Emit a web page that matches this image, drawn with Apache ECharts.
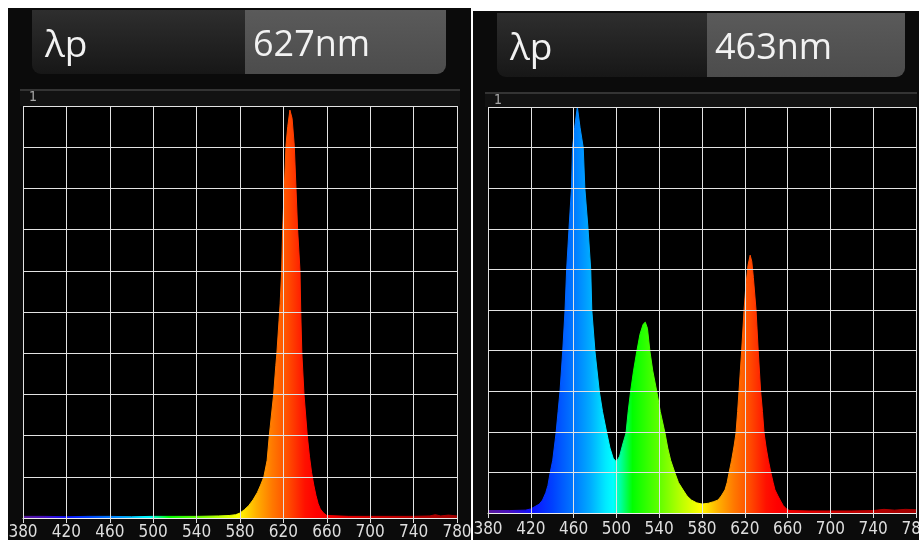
<!DOCTYPE html>
<html>
<head>
<meta charset="utf-8">
<script src="https://cdn.jsdelivr.net/npm/echarts@6/dist/echarts.min.js"></script>
<style>
  html, body { margin: 0; padding: 0; background: #ffffff; }
  #chart { width: 919px; height: 540px; }
</style>
</head>
<body>
<div id="chart"></div>
<script>
// Wavelength axis (nm)
const wlMin = 380;
const wlMax = 780;
const wlStep = 40;

// Peak wavelength readouts
const peakLabels = ['627nm', '463nm'];
const lambdaLabel = 'λp';
const scaleTopLabel = '1';

// Red LED spectrum: wavelength (nm) and relative intensity
const redNm = [380, 400, 420, 440, 460, 480, 500, 520, 540, 560, 570, 576, 580, 584, 588, 592, 596, 599, 602, 605, 607, 609, 611, 613, 614, 616, 617, 618.4, 619.3, 620.8, 622.4, 624, 626, 627, 628, 630, 631.6, 633.1, 635.3, 636, 637, 639, 642, 644, 646, 648, 650, 652, 654, 657, 660, 680, 700, 720, 740, 755, 760, 765, 772, 780];
const redVal = [0.004, 0.004, 0.003, 0.004, 0.004, 0.003, 0.004, 0.004, 0.004, 0.005, 0.006, 0.008, 0.012, 0.02, 0.03, 0.044, 0.062, 0.08, 0.10, 0.14, 0.20, 0.25, 0.30, 0.37, 0.40, 0.48, 0.52, 0.60, 0.70, 0.80, 0.905, 0.95, 0.99, 0.99, 0.97, 0.905, 0.80, 0.70, 0.60, 0.50, 0.40, 0.30, 0.20, 0.15, 0.11, 0.08, 0.055, 0.035, 0.022, 0.012, 0.006, 0.004, 0.004, 0.004, 0.004, 0.005, 0.008, 0.005, 0.007, 0.005];

// RGB LED spectrum: wavelength (nm) and relative intensity
const rgbNm = [380, 400, 415, 420, 424, 428, 431, 434, 436, 438, 440.5, 443.6, 445.5, 447.3, 449.8, 452, 453.5, 455.7, 458, 459, 461, 463.5, 466, 469, 470.5, 473.5, 476, 477, 480, 484, 487, 491, 494, 497, 500, 503, 506, 509, 511, 513.3, 516, 519, 522, 525, 527, 529, 531.4, 534, 537.7, 541, 545.4, 548, 550.7, 554.8, 558, 562.3, 566, 570, 575, 580, 586, 591, 595, 598, 601.5, 603.5, 605.2, 607.7, 610, 611.8, 613.3, 614.6, 617, 619.3, 621, 623, 625, 626.5, 628, 630.5, 632.6, 634.8, 636.5, 638, 640, 642, 644.5, 646.5, 648.2, 651, 653, 656, 659, 662, 680, 700, 720, 740, 750, 760, 770, 780];
const rgbVal = [0.006, 0.006, 0.007, 0.01, 0.016, 0.022, 0.032, 0.05, 0.068, 0.098, 0.13, 0.197, 0.25, 0.30, 0.397, 0.50, 0.60, 0.70, 0.80, 0.90, 0.95, 1.0, 0.95, 0.90, 0.80, 0.70, 0.60, 0.50, 0.397, 0.30, 0.25, 0.197, 0.16, 0.135, 0.126, 0.14, 0.17, 0.197, 0.25, 0.30, 0.35, 0.397, 0.44, 0.465, 0.47, 0.455, 0.397, 0.35, 0.30, 0.25, 0.197, 0.16, 0.13, 0.098, 0.075, 0.057, 0.042, 0.032, 0.025, 0.022, 0.024, 0.028, 0.032, 0.042, 0.057, 0.075, 0.098, 0.13, 0.165, 0.197, 0.25, 0.30, 0.397, 0.50, 0.56, 0.61, 0.635, 0.62, 0.58, 0.50, 0.397, 0.30, 0.25, 0.197, 0.16, 0.13, 0.098, 0.075, 0.057, 0.042, 0.032, 0.018, 0.01, 0.006, 0.005, 0.005, 0.005, 0.006, 0.009, 0.007, 0.009, 0.008];

// Visible spectrum colours by wavelength (nm)
const spectrumStops = [
  [380, '#5a1a9a'], [400, '#4a10c0'], [420, '#1010ff'], [440, '#0040ff'],
  [460, '#0078ff'], [475, '#00aaff'], [490, '#00eaff'], [497, '#00ffff'],
  [505, '#00ff90'], [515, '#00ff00'], [540, '#60ff00'], [560, '#b8ff00'],
  [578, '#ffff00'], [595, '#ffb000'], [610, '#ff7800'], [625, '#ff4a00'],
  [640, '#ff1000'], [650, '#ff0000'], [700, '#d00000'], [780, '#a00000']
];

function pairs(xs, ys) {
  return xs.map((x, i) => [x, ys[i]]);
}

function spectrumFill() {
  return new echarts.graphic.LinearGradient(0, 0, 1, 0,
    spectrumStops.map(([nm, c]) => ({ offset: (nm - wlMin) / (wlMax - wlMin), color: c })));
}

const labelFont = "'Liberation Sans Narrow', 'DejaVu Sans Condensed', sans-serif";
const headFont = "'Open Sans', 'Noto Sans', sans-serif";

// Panel geometry
const panels = [
  { box: [8, 8, 463, 532], head: [32, 10, 213, 201, 64], rule: [20, 90, 460], one: [29, 90],
    plot: [23, 106, 434, 412], labelMargin: 6 },
  { box: [473, 11, 446, 529], head: [497, 13, 210, 198, 64], rule: [485, 93, 917], one: [494, 93],
    plot: [488, 107, 428, 406], labelMargin: 8 }
];

const graphics = [];
panels.forEach((p, i) => {
  graphics.push({ type: 'rect', z: -10, shape: { x: p.box[0], y: p.box[1], width: p.box[2], height: p.box[3] },
    style: { fill: '#0b0b0b' } });
  graphics.push({ type: 'rect', z: -9, shape: { x: p.rule[0], y: p.rule[1], width: p.rule[2] - p.rule[0], height: p.plot[1] - p.rule[1] },
    style: { fill: '#121212' } });
  graphics.push({ type: 'line', z: -8, shape: { x1: p.rule[0], y1: p.rule[1], x2: p.rule[2], y2: p.rule[1] },
    style: { stroke: '#343434', lineWidth: 2 } });
  graphics.push({ type: 'rect', z: -8, shape: { x: p.plot[0], y: p.plot[1], width: p.plot[2], height: p.plot[3] },
    style: { fill: '#000000' } });
  const [hx, hy, wDark, wLight, hh] = p.head;
  graphics.push({ type: 'rect', z: -7, shape: { x: hx, y: hy, width: wDark, height: hh, r: [0, 0, 0, 9] },
    style: { fill: new echarts.graphic.LinearGradient(0, 0, 0, 1, [
      { offset: 0, color: '#2e2e2e' }, { offset: 1, color: '#171717' }]) } });
  graphics.push({ type: 'rect', z: -7, shape: { x: hx + wDark, y: hy, width: wLight, height: hh, r: [0, 0, 9, 0] },
    style: { fill: new echarts.graphic.LinearGradient(0, 0, 0, 1, [
      { offset: 0, color: '#5a5a5a' }, { offset: 1, color: '#4c4c4c' }]) } });
  graphics.push({ type: 'text', z: -6, x: hx + 13, y: hy + 36,
    style: { text: lambdaLabel, fill: '#f2f2f2', font: '37px ' + headFont, verticalAlign: 'middle' } });
  graphics.push({ type: 'text', z: -6, x: hx + wDark + 8, y: hy + 36,
    style: { text: peakLabels[i], fill: '#f2f2f2', font: '36px ' + headFont, verticalAlign: 'middle' } });
  graphics.push({ type: 'text', z: -6, x: p.one[0], y: p.one[1],
    style: { text: scaleTopLabel, fill: '#a8a8a8', font: '14px ' + labelFont } });
});

const chart = echarts.init(document.getElementById('chart'), null, { renderer: 'canvas' });

const gridLine = { show: true, lineStyle: { color: '#e2e2e2', width: 1 } };

chart.setOption({
  backgroundColor: '#ffffff',
  animation: false,
  graphic: graphics,
  grid: panels.map(p => ({
    left: p.plot[0], top: p.plot[1], width: p.plot[2], height: p.plot[3],
    containLabel: false, outerBoundsMode: 'none'
  })),
  xAxis: panels.map((p, i) => ({
    type: 'value', gridIndex: i, min: wlMin, max: wlMax, interval: wlStep, z: 3,
    axisLine: { show: true, lineStyle: { color: '#ececec', width: 1 } },
    axisTick: { show: true, length: 5, lineStyle: { color: '#dddddd' } },
    axisLabel: { color: '#dedede', fontSize: 17, fontFamily: labelFont, margin: p.labelMargin },
    splitLine: gridLine
  })),
  yAxis: panels.map((p, i) => ({
    type: 'value', gridIndex: i, min: 0, max: 1, interval: 0.1, z: 3,
    axisLine: { show: false }, axisTick: { show: false }, axisLabel: { show: false },
    splitLine: gridLine
  })),
  series: [
    { data: pairs(redNm, redVal), xAxisIndex: 0, yAxisIndex: 0 },
    { data: pairs(rgbNm, rgbVal), xAxisIndex: 1, yAxisIndex: 1 }
  ].map(s => Object.assign({
    type: 'line', z: 2, symbol: 'none', showSymbol: false, smooth: false, silent: true,
    lineStyle: { width: 1, color: spectrumFill() },
    areaStyle: { color: spectrumFill(), opacity: 1 }
  }, s))
});
</script>
</body>
</html>
